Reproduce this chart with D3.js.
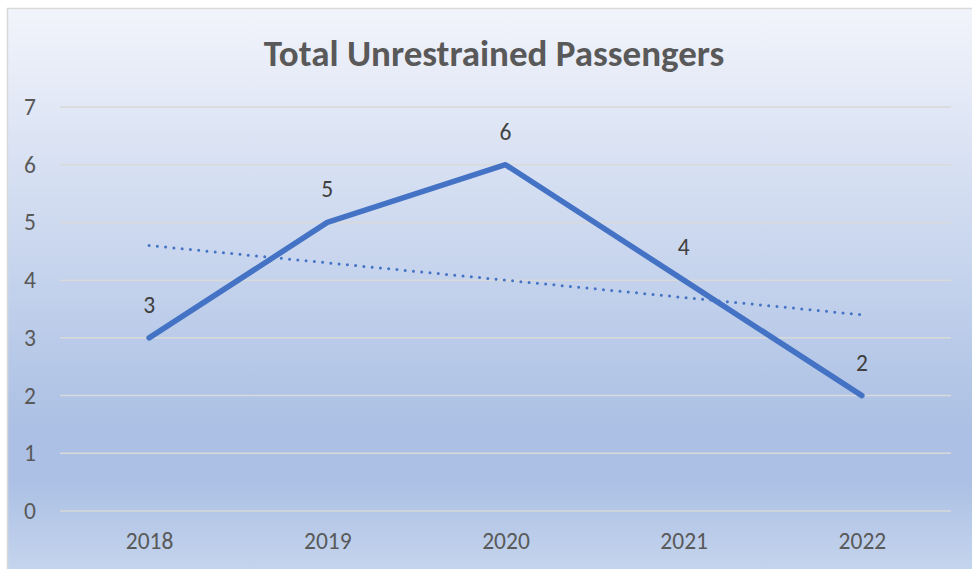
<!DOCTYPE html>
<html>
<head>
<meta charset="utf-8">
<script src="https://cdn.jsdelivr.net/npm/d3@7"></script>
<style>
  body { margin: 0; background: #fff; }
  text { font-family: Carlito, "Open Sans", "Liberation Sans", sans-serif; }
</style>
</head>
<body>
<div id="chart"></div>
<script>
////////////////// Data ////////////////////
var years = ["2018", "2019", "2020", "2021", "2022"];
var passengers = [3, 5, 6, 4, 2];
var yTicks = [0, 1, 2, 3, 4, 5, 6, 7];
var chartTitle = "Total Unrestrained Passengers";

////////////////// Chart Parameters ////////////////////
var svgWidth = 972;
var svgHeight = 569;
var margin = { top: 107, right: 21, bottom: 58, left: 60 };
var width = svgWidth - margin.left - margin.right;
var height = 511 - margin.top;
var fontStack = "Carlito, 'Open Sans', 'Liberation Sans', sans-serif";

var svg = d3.select("#chart").append("svg")
  .attr("width", svgWidth)
  .attr("height", svgHeight);

////////// Background gradient //////////
var defs = svg.append("defs");
var grad = defs.append("linearGradient")
  .attr("id", "bg")
  .attr("x1", 0).attr("y1", 0).attr("x2", 0).attr("y2", 1);
grad.append("stop").attr("offset", "0%").attr("stop-color", "#f2f4fb");
grad.append("stop").attr("offset", "74%").attr("stop-color", "#abc0e4");
grad.append("stop").attr("offset", "83%").attr("stop-color", "#abc0e4");
grad.append("stop").attr("offset", "100%").attr("stop-color", "#c7d6ee");

svg.append("rect")
  .attr("x", 7.5).attr("y", 8.5)
  .attr("width", svgWidth).attr("height", svgHeight)
  .attr("fill", "url(#bg)")
  .attr("stroke", "#d9d9d9")
  .attr("stroke-width", 1.5);

////////// Title //////////
svg.append("text")
  .attr("x", 494)
  .attr("y", 66)
  .attr("text-anchor", "middle")
  .attr("font-size", 37)
  .attr("font-weight", "bold")
  .attr("fill", "#595959")
  .text(chartTitle);

var chartGroup = svg.append("g")
  .attr("transform", `translate(${margin.left}, ${margin.top})`);

////////// Scales //////////
var xScale = d3.scalePoint()
  .domain(years)
  .range([0, width])
  .padding(0.5);

var yScale = d3.scaleLinear()
  .domain([0, 7])
  .range([height, 0]);

////////// Gridlines //////////
chartGroup.append("g")
  .selectAll("line")
  .data(yTicks)
  .enter()
  .append("line")
  .attr("x1", 0)
  .attr("x2", width)
  .attr("y1", d => yScale(d))
  .attr("y2", d => yScale(d))
  .attr("stroke", "#d9d9d9")
  .attr("stroke-width", 1.5);

////////// Axes //////////
var yAxis = d3.axisLeft(yScale).tickValues(yTicks).tickFormat(d3.format("d"))
  .tickSize(0).tickPadding(24);
var xAxis = d3.axisBottom(xScale).tickSize(0).tickPadding(21);

var yG = chartGroup.append("g").call(yAxis);
var xG = chartGroup.append("g")
  .attr("transform", `translate(0, ${height})`)
  .call(xAxis);

[yG, xG].forEach(function (g) {
  g.attr("font-size", null).attr("font-family", null);
  g.select(".domain").remove();
  g.selectAll("text")
    .attr("font-size", 23.5)
    .attr("fill", "#595959")
    .style("font-family", fontStack);
});

////////// Trendline (linear fit) //////////
var n = passengers.length;
var xs = d3.range(1, n + 1);
var mx = d3.mean(xs), my = d3.mean(passengers);
var slope = d3.sum(xs, (x, i) => (x - mx) * (passengers[i] - my)) /
            d3.sum(xs, x => (x - mx) * (x - mx));
var intercept = my - slope * mx;

chartGroup.append("line")
  .attr("x1", xScale(years[0]))
  .attr("x2", xScale(years[n - 1]))
  .attr("y1", yScale(intercept + slope * 1))
  .attr("y2", yScale(intercept + slope * n))
  .attr("stroke", "#4472c4")
  .attr("stroke-width", 3)
  .attr("stroke-linecap", "round")
  .attr("stroke-dasharray", "0 8.3");

////////// Line //////////
var line = d3.line()
  .x((d, i) => xScale(years[i]))
  .y(d => yScale(d));

chartGroup.append("path")
  .datum(passengers)
  .attr("d", line)
  .attr("fill", "none")
  .attr("stroke", "#4472c4")
  .attr("stroke-width", 5.5)
  .attr("stroke-linecap", "round")
  .attr("stroke-linejoin", "round");

////////// Data labels //////////
chartGroup.selectAll("text.label")
  .data(passengers)
  .enter()
  .append("text")
  .attr("class", "label")
  .attr("x", (d, i) => xScale(years[i]))
  .attr("y", d => yScale(d) - 25)
  .attr("text-anchor", "middle")
  .attr("font-size", 23.5)
  .attr("fill", "#404040")
  .text(d => d);
</script>
</body>
</html>
